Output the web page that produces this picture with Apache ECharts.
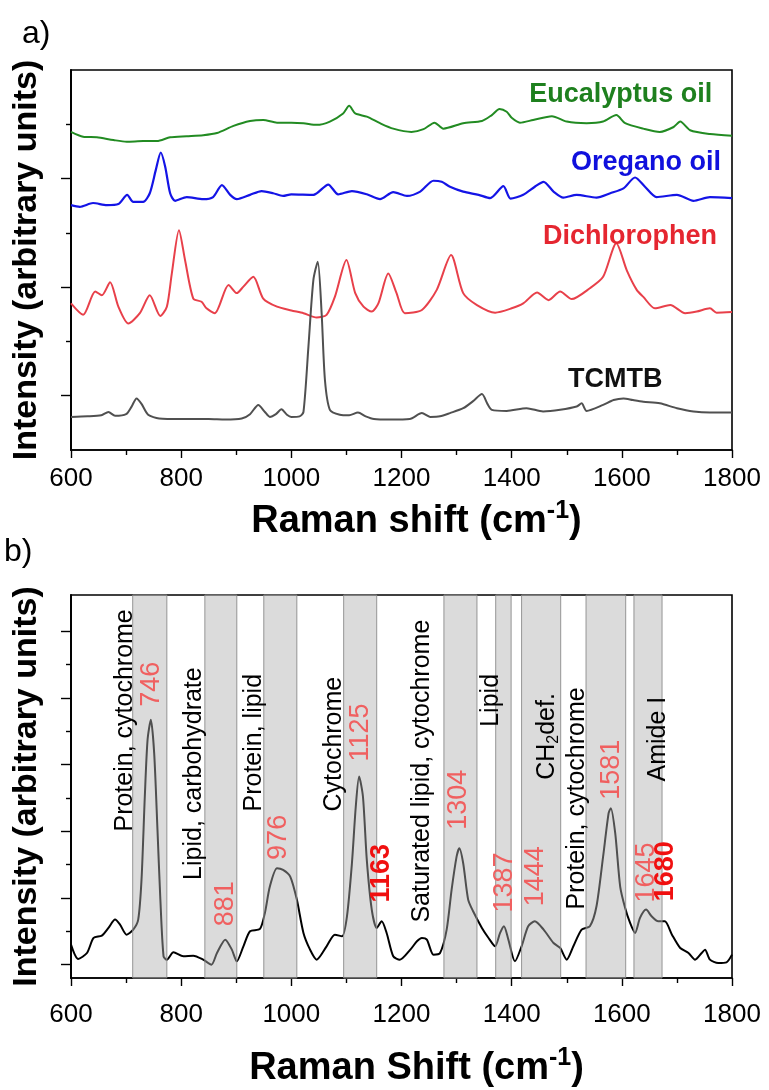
<!DOCTYPE html>
<html>
<head>
<meta charset="utf-8">
<script src="https://cdn.jsdelivr.net/npm/echarts@6/dist/echarts.min.js"></script>
<style>
  html, body { margin: 0; padding: 0; background: #fff; }
  #chart { width: 769px; height: 1090px; }
</style>
</head>
<body>
<div id="chart"></div>
<script>
// ---- data: panel a) reference compounds, offset spectra [Raman shift, intensity] ----
const eucalyptus = [
  [600,5.86],[622,5.77],[647,5.76],[677,5.71],[701,5.68],[731,5.69],[756,5.69],[780,5.76],[810,5.78],[840,5.80],
  [865,5.84],[895,5.97],[925,6.06],[949,6.08],[974,6.03],[1000,6.03],[1022,6.02],[1046,5.99],[1070,6.05],[1094,6.20],
  [1105,6.34],[1116,6.20],[1137,6.14],[1161,6.02],[1185,5.92],[1218,5.86],[1240,5.91],[1260,6.03],[1276,5.92],[1312,6.02],
  [1346,6.06],[1364,6.17],[1378,6.28],[1391,6.23],[1400,6.12],[1415,6.03],[1439,6.08],[1473,6.15],[1500,6.05],[1536,6.02],
  [1566,6.05],[1590,6.17],[1606,6.02],[1639,5.92],[1669,5.86],[1694,5.95],[1706,6.05],[1724,5.89],[1760,5.82],[1800,5.79]
];
const oregano = [
  [600,4.51],[616,4.48],[640,4.55],[665,4.51],[686,4.53],[702,4.70],[713,4.57],[731,4.57],[743,4.73],[754,5.16],
  [763,5.48],[771,5.22],[780,4.73],[789,4.59],[810,4.66],[840,4.62],[858,4.66],[874,4.88],[889,4.70],[901,4.62],
  [925,4.70],[946,4.77],[967,4.73],[985,4.68],[1000,4.71],[1040,4.70],[1067,4.89],[1085,4.71],[1110,4.77],[1137,4.71],
  [1161,4.62],[1185,4.75],[1210,4.68],[1234,4.76],[1258,4.96],[1273,4.94],[1288,4.85],[1312,4.76],[1340,4.70],[1361,4.64],
  [1385,4.86],[1398,4.63],[1421,4.70],[1442,4.85],[1458,4.94],[1476,4.76],[1494,4.65],[1518,4.70],[1554,4.65],[1579,4.73],
  [1603,4.82],[1624,5.02],[1642,4.85],[1663,4.66],[1700,4.70],[1730,4.59],[1760,4.66],[1800,4.64]
];
const dichlorophen = [
  [600,2.70],[622,2.49],[644,2.92],[656,2.85],[671,3.09],[686,2.64],[704,2.33],[725,2.52],[743,2.85],[762,2.47],
  [774,2.64],[783,3.25],[796,4.05],[807,3.50],[822,2.79],[837,2.73],[846,2.61],[861,2.52],[886,3.04],[901,2.89],
  [913,3.01],[931,3.19],[949,2.79],[974,2.64],[1000,2.57],[1022,2.52],[1046,2.44],[1064,2.49],[1079,2.82],[1100,3.50],
  [1116,2.89],[1131,2.64],[1146,2.55],[1158,2.70],[1176,3.25],[1191,2.89],[1206,2.52],[1237,2.58],[1264,2.95],[1290,3.59],
  [1312,2.89],[1337,2.67],[1370,2.53],[1400,2.61],[1421,2.70],[1446,2.90],[1467,2.76],[1488,2.92],[1509,2.78],[1542,2.98],
  [1566,3.19],[1590,3.81],[1609,3.31],[1627,2.95],[1639,2.82],[1660,2.61],[1688,2.67],[1715,2.52],[1736,2.55],[1760,2.61],
  [1772,2.53],[1800,2.54]
];
const tcmtb = [
  [600,0.61],[630,0.62],[655,0.64],[668,0.70],[680,0.63],[700,0.66],[710,0.80],[719,0.95],[728,0.85],[740,0.65],
  [760,0.58],[800,0.57],[850,0.57],[880,0.56],[910,0.58],[925,0.66],[940,0.83],[952,0.70],[961,0.61],[972,0.66],
  [982,0.75],[992,0.65],[1000,0.61],[1015,0.62],[1022,0.70],[1031,1.90],[1040,3.13],[1048,3.47],[1055,2.52],[1061,1.29],
  [1070,0.74],[1088,0.65],[1105,0.64],[1121,0.69],[1135,0.62],[1150,0.57],[1180,0.56],[1215,0.57],[1237,0.68],[1252,0.61],
  [1270,0.62],[1288,0.68],[1312,0.77],[1330,0.90],[1346,1.03],[1356,0.85],[1364,0.74],[1391,0.72],[1427,0.77],[1457,0.71],
  [1488,0.74],[1518,0.80],[1527,0.86],[1536,0.72],[1566,0.83],[1585,0.92],[1603,0.95],[1620,0.92],[1639,0.89],[1669,0.86],
  [1700,0.77],[1730,0.71],[1760,0.69],[1800,0.69]
];
const compoundNames = ['Eucalyptus oil', 'Oregano oil', 'Dichlorophen', 'TCMTB'];

// ---- data: panel b) cell spectrum ----
const cellSpectrum = [
  [600,1.60],[613,1.17],[629,1.35],[641,1.80],[656,1.87],[668,2.10],[680,2.35],[689,2.20],[701,1.90],[713,2.05],
  [722,2.35],[728,3.54],[734,6.04],[739,7.74],[745,8.34],[751,7.34],[757,5.04],[762,3.04],[768,1.25],[774,1.15],
  [786,1.37],[804,1.25],[822,1.27],[840,1.15],[855,1.00],[865,1.35],[880,1.75],[892,1.45],[901,1.10],[913,1.55],
  [925,2.00],[943,2.07],[952,2.55],[961,3.34],[974,3.89],[985,3.84],[998,3.64],[1010,2.95],[1022,1.95],[1034,1.45],
  [1046,1.15],[1064,1.55],[1079,1.90],[1092,1.85],[1101,2.45],[1110,4.04],[1117,5.74],[1123,6.64],[1130,6.04],[1137,4.14],
  [1146,2.65],[1155,2.10],[1164,2.30],[1173,1.95],[1185,1.25],[1197,1.15],[1216,1.45],[1228,1.70],[1237,1.80],[1246,1.75],
  [1258,1.30],[1270,1.35],[1282,2.05],[1291,3.25],[1300,4.24],[1305,4.49],[1312,4.04],[1321,2.95],[1330,2.60],[1346,2.10],
  [1358,1.80],[1370,1.55],[1379,1.95],[1386,2.15],[1394,1.75],[1406,1.10],[1418,1.55],[1430,2.15],[1442,2.30],[1458,2.05],
  [1476,1.65],[1488,1.50],[1500,1.15],[1512,1.55],[1527,2.05],[1542,2.15],[1554,2.75],[1566,4.24],[1576,5.54],[1580,5.69],
  [1588,4.94],[1597,3.34],[1606,2.70],[1615,2.25],[1624,1.95],[1633,2.40],[1644,2.65],[1654,2.45],[1666,2.30],[1678,2.30],
  [1691,1.90],[1706,1.50],[1721,1.35],[1733,1.15],[1745,1.35],[1751,1.45],[1760,1.15],[1775,1.05],[1790,1.07],[1800,1.30]
];
// assignment bands [from, to] in cm-1
const bandRanges = [
  [712,774],[843,901],[950,1010],[1095,1155],[1277,1337],[1371,1399],[1418,1489],[1535,1607],[1622,1673]
];
const bandNames = [
  'Protein, cytochrome', 'Lipid, carbohydrate', 'Protein, lipid', 'Cytochrome',
  'Saturated lipid, cytochrome', 'Lipid', 'CH{sub|2}def.', 'Protein, cytochrome', 'Amide I'
];
const peakPositions = [746, 881, 976, 1125, 1163, 1304, 1387, 1444, 1581, 1645, 1680];
const strongPeaks = [1163, 1680];
const xTickValues = [600, 800, 1000, 1200, 1400, 1600, 1800];
const topTicksLong = [1, 3, 5];
const topTicksShort = [2, 4, 6];
const bottomTicksLong = [1, 3, 5, 7, 9, 11];
const bottomTicksShort = [2, 4, 6, 8, 10];

// ---- layout / style ----
const FONT = "'Liberation Sans', Arial, Helvetica, sans-serif";
const compoundColors = ['#228b22', '#1414e6', '#e8404a', '#505050'];
const compoundTextColors = ['#1e801e', '#1010dd', '#e52630', '#111111'];
// label anchors (data coords) for compound names
const compoundLabelAt = [[1598, 6.54], [1644, 5.30], [1615, 3.94], [1588, 1.29]];
// band-name anchors: x centre and y of text start (text runs upward)
const bandLabelAt = [[699,4.99],[823,3.54],[932,5.59],[1077,5.59],[1237,2.26],[1362,8.13],[1465,6.54],[1519,2.65],[1665,6.49]];
// peak-number text start (y) – x is the peak position itself
const peakLabelStart = [8.73, 2.15, 4.14, 7.09, 2.86, 5.04, 2.56, 2.75, 5.94, 2.86, 2.90];

const chart = echarts.init(document.getElementById('chart'), null, { renderer: 'canvas' });

const axisLine = { show: true, lineStyle: { color: '#000', width: 1.6 } };
function xAxisFor(gi, title, labelMargin, gap) {
  return {
    type: 'value', gridIndex: gi, min: 600, max: 1800, interval: 200,
    axisLine: axisLine,
    axisTick: { show: true, length: 8, lineStyle: { color: '#000', width: 1.4 } },
    minorTick: { show: true, splitNumber: 2, length: 5, lineStyle: { color: '#000', width: 1.4 } },
    splitLine: { show: false },
    axisLabel: {
      customValues: xTickValues, formatter: v => String(v),
      fontFamily: FONT, fontSize: 26, color: '#000', margin: labelMargin
    },
    name: title, nameLocation: 'middle', nameGap: gap,
    nameTextStyle: {
      fontFamily: FONT, fontSize: 38, fontWeight: 'bold', color: '#000', padding: [0, 0, 0, 30],
      rich: {
        b: { fontFamily: FONT, fontSize: 38, fontWeight: 'bold', color: '#000' },
        sup: { fontFamily: FONT, fontSize: 25, fontWeight: 'bold', color: '#000', verticalAlign: 'top', padding: [0, 0, 20, 0] }
      }
    }
  };
}
function yAxisFor(gi, min, max, ticks, tickLen, withName) {
  return {
    type: 'value', gridIndex: gi, min: min, max: max, position: 'left',
    axisLine: axisLine,
    axisTick: { show: true, customValues: ticks, length: tickLen, lineStyle: { color: '#000', width: 1.4 } },
    axisLabel: { show: false, customValues: ticks },
    splitLine: { show: false },
    name: withName ? 'Intensity (arbitrary units)' : '', nameLocation: 'middle', nameRotate: 90, nameGap: 27,
    nameTextStyle: { fontFamily: FONT, fontSize: 34, fontWeight: 'bold', color: '#000' }
  };
}

function lineSeries(data, color, width) {
  return {
    type: 'line', xAxisIndex: 0, yAxisIndex: 0, data: data, showSymbol: false,
    smooth: 0.25, lineStyle: { color: color, width: width }, z: 2, silent: true
  };
}

const option = {
  animation: false,
  backgroundColor: '#fff',
  grid: [
    { left: 71, top: 70, width: 661, height: 380, show: true, borderColor: '#000', borderWidth: 1.6 },
    { left: 71, top: 595, width: 661, height: 383, show: true, borderColor: '#000', borderWidth: 1.6 }
  ],
  xAxis: [
    xAxisFor(0, '{b|Raman shift (cm}{sup|-1}{b|)}', 16, 49),
    xAxisFor(1, '{b|Raman Shift (cm}{sup|-1}{b|)}', 24, 68)
  ],
  yAxis: [
    yAxisFor(0, 0, 7, topTicksShort, 5, true),
    yAxisFor(1, 0.6, 12.08, bottomTicksShort, 5, true),
    yAxisFor(0, 0, 7, topTicksLong, 10, false),
    yAxisFor(1, 0.6, 12.08, bottomTicksLong, 10, false)
  ],
  series: [
    lineSeries(eucalyptus, compoundColors[0], 2),
    lineSeries(oregano, compoundColors[1], 2.2),
    lineSeries(dichlorophen, compoundColors[2], 2),
    lineSeries(tcmtb, compoundColors[3], 2),
    {
      type: 'line', xAxisIndex: 1, yAxisIndex: 1, data: cellSpectrum, showSymbol: false,
      smooth: 0.25, lineStyle: { color: '#000', width: 2 }, z: 2, silent: true
    },
    {
      // translucent assignment bands, laid over the spectrum
      type: 'custom', xAxisIndex: 1, yAxisIndex: 1, z: 5, silent: true,
      data: bandRanges,
      encode: { x: [0, 1] },
      renderItem: function (params, api) {
        const cs = params.coordSys;
        const x0 = api.coord([api.value(0), 1])[0];
        const x1 = api.coord([api.value(1), 1])[0];
        return {
          type: 'rect',
          shape: { x: x0, y: cs.y, width: x1 - x0, height: cs.height },
          style: { fill: 'rgba(175,175,175,0.45)', stroke: 'rgba(140,140,140,0.9)', lineWidth: 1 }
        };
      }
    }
  ]
};
chart.setOption(option);

// ---- annotations placed through the axes ----
function toPx(gi, x, y) {
  return chart.convertToPixel({ xAxisIndex: gi, yAxisIndex: gi }, [x, y]);
}
const graphics = [];
compoundNames.forEach((name, i) => {
  const p = toPx(0, compoundLabelAt[i][0], compoundLabelAt[i][1]);
  graphics.push({
    type: 'text', x: p[0], y: p[1], z: 10,
    style: { text: name, fontFamily: FONT, fontSize: 27, fontWeight: 'bold', fill: compoundTextColors[i], align: 'center', verticalAlign: 'middle' }
  });
});
bandNames.forEach((name, i) => {
  const p = toPx(1, bandLabelAt[i][0], bandLabelAt[i][1]);
  graphics.push({
    type: 'text', x: p[0], y: p[1], rotation: Math.PI / 2, z: 10,
    style: {
      text: name, fontFamily: FONT, fontSize: 25, fill: '#000', align: 'left', verticalAlign: 'middle',
      rich: { sub: { fontFamily: FONT, fontSize: 16, fill: '#000', verticalAlign: 'bottom', padding: [12, 0, 0, 0] } }
    }
  });
});
peakPositions.forEach((pk, i) => {
  const p = toPx(1, pk, peakLabelStart[i]);
  const strong = strongPeaks.indexOf(pk) >= 0;
  graphics.push({
    type: 'text', x: p[0], y: p[1], rotation: Math.PI / 2, z: 11,
    style: {
      text: String(pk), fontFamily: FONT, fontSize: 27, fontWeight: strong ? 'bold' : 'normal',
      fill: strong ? '#f01010' : '#f06060', align: 'left', verticalAlign: 'middle'
    }
  });
});
graphics.push({ type: 'text', x: 22, y: 34, style: { text: 'a)', fontFamily: FONT, fontSize: 32, fill: '#000', verticalAlign: 'middle' } });
graphics.push({ type: 'text', x: 4, y: 552, style: { text: 'b)', fontFamily: FONT, fontSize: 32, fill: '#000', verticalAlign: 'middle' } });
chart.setOption({ graphic: graphics });
</script>
</body>
</html>
